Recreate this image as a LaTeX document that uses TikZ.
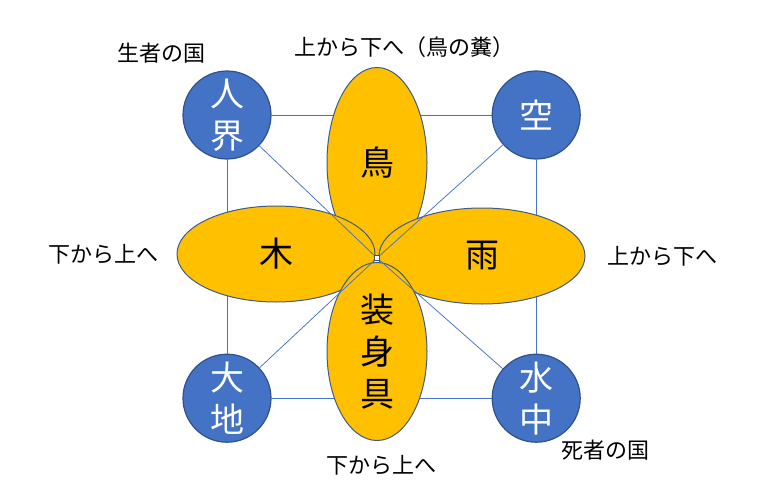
\documentclass[tikz,border=0pt]{standalone}
\usepackage{fontspec}
\setmainfont{Noto Sans CJK JP}
\usepackage{tikz}
\usetikzlibrary{positioning, shapes, calc}
\usepackage{xcolor}
\definecolor{realmBlue}{HTML}{4472C4}
\definecolor{realmEdge}{HTML}{2F528F}
\definecolor{petalGold}{HTML}{FFC000}
\definecolor{petalEdge}{HTML}{3E5C89}

\tikzset{
	realm/.style = {circle, draw=realmEdge, line width=1.2pt, fill=realmBlue, text=white, inner sep=0pt, minimum size=88pt, align=center, font=\fontsize{34}{42}\selectfont},
	petal/.style = {ellipse, draw=petalEdge, line width=1pt, fill=petalGold, inner sep=0pt, align=center, font=\fontsize{34}{42}\selectfont},
	flowLabel/.style = {inner sep=0pt, font=\fontsize{22}{26}\selectfont},
	thinLine/.style = {draw=realmBlue, line width=0.75pt}
}

\begin{document}
\begin{tikzpicture}[x=1pt, y=-1pt]
		\useasboundingbox (0,0) rectangle (762,500);
		\node (humanRealm)[realm] at (227,115) {人\\界};
		\node (sky)[realm, right=220pt of humanRealm] {空};
		\node (earth)[realm, below=194pt of humanRealm] {大\\地};
		\node (underwater)[realm, below=194pt of sky] {水\\中};
		
		\draw[thinLine] (humanRealm) -- (sky);
		\draw[thinLine] (humanRealm) -- (earth);
		\draw[thinLine] (sky) -- (underwater);
		\draw[thinLine] (earth) -- (underwater);
		
		\coordinate (flowerCenter) at (377,258);
		\node (bird)[petal, minimum width=100pt, minimum height=190pt, above=0pt of flowerCenter] {鳥};
		\node (tree)[petal, minimum width=198pt, minimum height=96pt, left=1.5pt of flowerCenter, yshift=4pt] {木};
		\node (rain)[petal, minimum width=206pt, minimum height=96pt, right=1.5pt of flowerCenter, yshift=2pt] {雨};
		\node (ornament)[petal, minimum width=100pt, minimum height=178pt, below=4pt of flowerCenter] {装\\身\\具};
		\node (hub)[rectangle, draw=realmEdge, fill=white, line width=0.5pt, minimum size=5pt, inner sep=0pt] at (flowerCenter) {};
		
		\draw[thinLine] (humanRealm) -- (hub);
		\draw[thinLine] (sky) -- (hub);
		\draw[thinLine] (earth) -- (hub);
		\draw[thinLine] (underwater) -- (hub);
		
		\node (birdLabel)[flowLabel, above=9pt of bird, xshift=27pt] {上から下へ（鳥の糞）};
		\node (treeLabel)[flowLabel, left=18pt of tree] {下から上へ};
		\node (rainLabel)[flowLabel, right=22pt of rain] {上から下へ};
		\node (ornamentLabel)[flowLabel, below=14pt of ornament, xshift=4pt] {下から上へ};
		\node (livingLabel)[flowLabel, above left=20pt and -10pt of humanRealm] {生者の国};
		\node (deadLabel)[flowLabel, below right=10pt and -6pt of underwater] {死者の国};
	\end{tikzpicture}
\end{document}
